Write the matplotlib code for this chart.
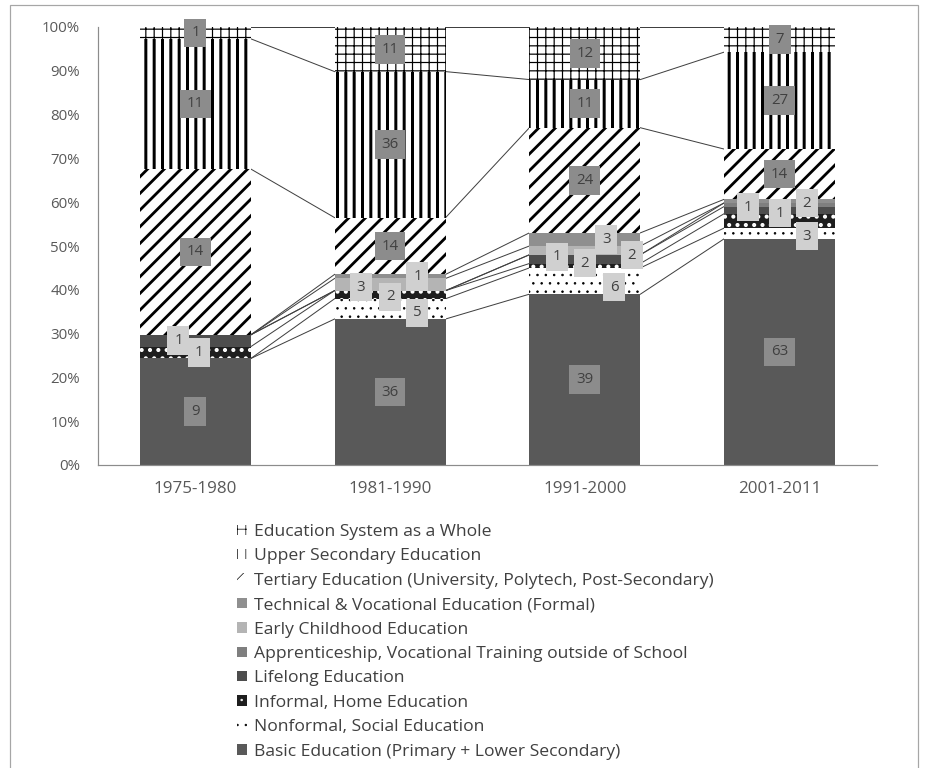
import numpy as np
import matplotlib.pyplot as plt
from matplotlib.patches import Patch, Rectangle

plt.rcParams['font.family'] = ['Open Sans', 'DejaVu Sans']

DPI = 50
P = 72 / DPI   # points per pixel

periods = ['1975-1980', '1981-1990', '1991-2000', '2001-2011']

# counts per period (labels in the boxes), bars are shares of the period total
basic = [9, 36, 39, 63]
nonformal = [0, 5, 6, 3]
informal = [1, 2, 1, 4]
lifelong = [1, 0, 2, 2]
apprenticeship = [0, 0, 0, 1]
early_childhood = [0, 3, 2, 0]
technical = [0, 1, 3, 1]
tertiary = [14, 14, 24, 14]
upper_secondary = [11, 36, 11, 27]
whole_system = [1, 11, 12, 7]

names = [
    'Basic Education (Primary + Lower Secondary)',
    'Nonformal, Social Education',
    'Informal, Home Education',
    'Lifelong Education',
    'Apprenticeship, Vocational Training outside of School',
    'Early Childhood Education',
    'Technical & Vocational Education (Formal)',
    'Tertiary Education (University, Polytech, Post-Secondary)',
    'Upper Secondary Education',
    'Education System as a Whole',
]

# face, hatch colour, hatch, hatch linewidth (px), label box colour
styles = [
    ('#595959', None, None, 0, '#8c8c8c'),
    ('white', 'black', '.', 0.8, '#d0d0d0'),
    ('#1e1e1e', 'white', '.', 2.4, '#d0d0d0'),
    ('#4d4d4d', None, None, 0, '#d0d0d0'),
    ('#7f7f7f', None, None, 0, '#d0d0d0'),
    ('#b4b4b4', None, None, 0, '#d0d0d0'),
    ('#8f8f8f', None, None, 0, '#d0d0d0'),
    ('white', 'black', '/', 2.8, '#8c8c8c'),
    ('white', 'black', '|', 3.0, '#8c8c8c'),
    ('white', 'black', '+', 1.2, '#8c8c8c'),
]

# manual label shifts (dx in categories, dy in %), as moved in the original
shift = {
    (3, 0): (-0.087, 0.0), (2, 0): (0.02, 0.0),
    (5, 1): (-0.15, -0.6), (2, 1): (0.0, -0.5), (6, 1): (0.14, 0.0), (1, 1): (0.14, -0.9),
    (2, 2): (-0.144, 2.0), (3, 2): (0.0, -0.9), (6, 2): (0.11, 0.0), (5, 2): (0.24, -1.1),
    (1, 2): (0.15, -1.4),
    (6, 3): (-0.164, -1.35), (4, 3): (0.0, -1.9), (3, 3): (0.14, 1.6), (1, 3): (0.14, -0.6),
}
hidden = {(2, 3)}

counts = np.array([basic, nonformal, informal, lifelong, apprenticeship,
                   early_childhood, technical, tertiary, upper_secondary, whole_system])
shares = counts / counts.sum(axis=0) * 100
tops = np.cumsum(shares, axis=0)
bottoms = tops - shares

fig = plt.figure(figsize=(928 / DPI, 768 / DPI), dpi=DPI)
ax = fig.add_axes([98 / 928, 1 - 465 / 768, (877 - 98) / 928, 438 / 768])
x = np.arange(len(periods))
w = 0.57

handles = []
for k, name in enumerate(names):
    face, hcol, hatch, hlw, box = styles[k]
    with plt.rc_context({'hatch.linewidth': hlw * P if hlw else 1.0}):
        bars = ax.bar(x, shares[k], w, bottom=bottoms[k], color=face,
                      edgecolor=hcol if hcol else 'none', linewidth=0,
                      hatch=hatch, zorder=2)
        for b in bars:
            if hatch and hasattr(b, 'set_hatch_linewidth'):
                b.set_hatch_linewidth(hlw * P)
        h = Patch(facecolor=face, edgecolor=hcol if hcol else 'none',
                  linewidth=0, hatch=hatch, label=name)
        if hatch and hasattr(h, 'set_hatch_linewidth'):
            h.set_hatch_linewidth(min(hlw, 2.0) * P)
    handles.append(h)

    # series lines between neighbouring bars
    for i in range(len(periods) - 1):
        ax.plot([x[i] + w / 2, x[i + 1] - w / 2], [tops[k, i], tops[k, i + 1]],
                color='#404040', lw=1.0 * P, zorder=1)

for k in range(len(names)):
    box = styles[k][4]
    for i in range(len(periods)):
        if counts[k, i] == 0 or (k, i) in hidden:
            continue
        dx, dy = shift.get((k, i), (0, 0))
        ax.text(x[i] + dx, bottoms[k, i] + shares[k, i] / 2 + dy, str(counts[k, i]),
                ha='center', va='center', fontsize=15 * P, color='#404040', zorder=5,
                bbox=dict(boxstyle='square,pad=0.45', fc=box, ec='none'))

ax.set_xlim(-0.5, 3.5)
ax.set_ylim(0, 100)
ax.set_xticks(x)
ax.set_xticklabels(periods)
ax.set_yticks(range(0, 101, 10))
ax.set_yticklabels([f'{v}%' for v in range(0, 101, 10)])
ax.tick_params(axis='y', length=0, pad=18 * P, labelsize=15 * P, labelcolor='#595959')
ax.tick_params(axis='x', length=0, pad=16 * P, labelsize=17 * P, labelcolor='#595959')
for s in ['top', 'right']:
    ax.spines[s].set_visible(False)
for s in ['left', 'bottom']:
    ax.spines[s].set_color('#8c8c8c')
    ax.spines[s].set_linewidth(1.2 * P)

fig.legend(handles[::-1], names[::-1], loc='upper left',
           bbox_to_anchor=(237 / 928, 1 - 524 / 768), frameon=False, fontsize=17.5 * P,
           handlelength=0.55, handleheight=0.55, handletextpad=0.45,
           labelspacing=0.48, borderaxespad=0, borderpad=0, labelcolor='#404040')

fig.add_artist(Rectangle((10 / 928, -0.01), (918 - 10) / 928, 1 - 5 / 768 + 0.01,
                         transform=fig.transFigure, fill=False, ec='#a6a6a6', lw=1.2 * P))

fig.savefig('out.png', dpi=DPI)
